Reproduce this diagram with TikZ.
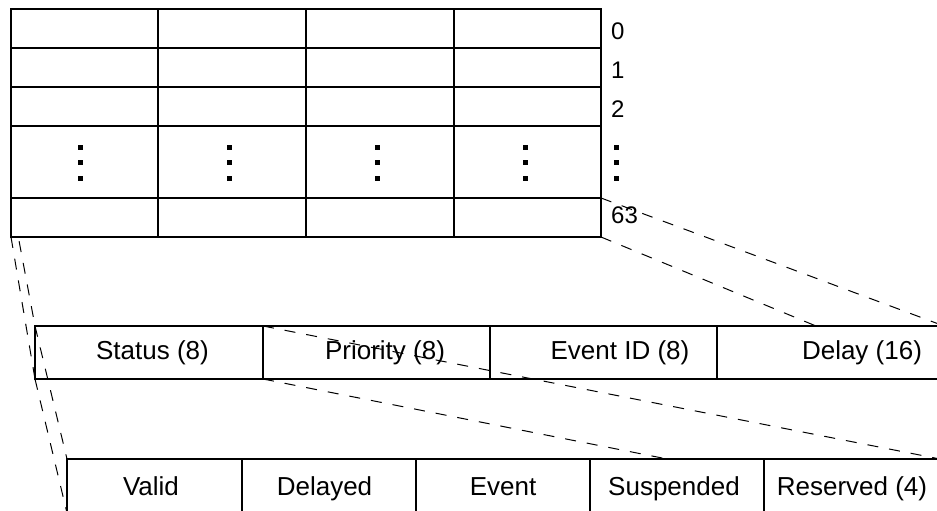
\documentclass[tikz,border=0pt]{standalone}
\usepackage{fontspec}
\setmainfont{Liberation Sans}
\pgfdeclarelayer{low}
\pgfdeclarelayer{mid}
\pgfdeclarelayer{high}
\pgfsetlayers{low,main,mid,high}
% \mkcell{name}{x1}{y1}{x2}{y2}
\newcommand\mkcell[5]{%
  \pgfmathsetmacro\cellw{#4-#2}\pgfmathsetmacro\cellh{#5-#3}%
  \pgfmathsetmacro\cellx{(#2+#4)/2}\pgfmathsetmacro\celly{(#3+#5)/2}%
  \node[cell, minimum width=\cellw bp, minimum height=\cellh bp] (#1) at (\cellx,\celly) {};}
\begin{document}
\begin{tikzpicture}[x=1bp,y=-1bp,
  cell/.style={draw=black, line width=2bp, fill=white, inner sep=0pt, outer sep=0pt},
  conn/.style={draw=black, line width=1bp, dash pattern=on 11bp off 11bp},
  fieldtext/.style={font=\fontsize{26bp}{30bp}\selectfont, inner sep=0pt, anchor=base},
  rowlabel/.style={font=\fontsize{24bp}{28bp}\selectfont, inner sep=0pt, anchor=base west}]
\useasboundingbox (0,0) rectangle (937,511);
\clip (0,0) rectangle (937,511);

% ---- top table (64 entries) ----
\foreach \c/\xa/\xb in {a/11/158, b/158/306, c/306/454, d/454/601} {
  \mkcell{tz\c}{\xa}{9}{\xb}{48}
  \mkcell{to\c}{\xa}{48}{\xb}{87}
  \mkcell{tt\c}{\xa}{87}{\xb}{126}
  \mkcell{tdots\c}{\xa}{126}{\xb}{198}
  \mkcell{tl\c}{\xa}{198}{\xb}{237}
}
\foreach \x in {80,229.5,377,525,616.5}
  \foreach \y in {147.5,163,178.5}
    \fill (\x-2.5,\y-2.5) rectangle (\x+2.5,\y+2.5);
\node[rowlabel] (lab0) at (611,40) {0};
\node[rowlabel] (lab1) at (611,79) {1};
\node[rowlabel] (lab2) at (611,118) {2};
\node[rowlabel] (lab63) at (611,224) {63};

% ---- middle table (one entry) ----
\mkcell{ms}{35}{326}{263}{379}
\mkcell{mp}{263}{326}{490}{379}
\mkcell{me}{490}{326}{717}{379}
\mkcell{md}{717}{326}{944}{379}
\node[fieldtext] (tms) at (152.5,359.5) {Status (8)};
\node[fieldtext] (tmp) at (385,359.5) {Priority (8)};
\node[fieldtext] (tme) at (620,359.5) {Event ID (8)};
\node[fieldtext] (tmd) at (862,359.5) {Delay (16)};

\begin{pgfonlayer}{low}
  \draw[conn] (tla.north west) -- (ms.north west);
  \draw[conn] (tla.south west) -- (ms.south west);
  \draw[conn] (tld.north east) -- (md.north east);
  \draw[conn] (tld.south east) -- (md.south east);
\end{pgfonlayer}

% ---- bottom table (status bits) ----
\begin{pgfonlayer}{high}
  \mkcell{bv}{67}{459}{242}{513}
  \mkcell{bd}{242}{459}{416}{513}
  \mkcell{be}{416}{459}{590}{513}
  \mkcell{bs}{590}{459}{764}{513}
  \mkcell{br}{764}{459}{940}{513}
  \node[fieldtext] (tbv) at (151,495) {Valid};
  \node[fieldtext] (tbd) at (324.5,495) {Delayed};
  \node[fieldtext] (tbe) at (503,495) {Event};
  \node[fieldtext] (tbs) at (674,495) {Suspended};
  \node[fieldtext] (tbr) at (852,495) {Reserved (4)};
\end{pgfonlayer}

\begin{pgfonlayer}{mid}
  \draw[conn] (ms.north west) -- (bv.north west);
  \draw[conn] (ms.south west) -- (bv.south west);
  \draw[conn] (mp.north west) -- (br.north east);
  \draw[conn] (mp.south west) -- (br.south east);
\end{pgfonlayer}
\end{tikzpicture}
\end{document}
